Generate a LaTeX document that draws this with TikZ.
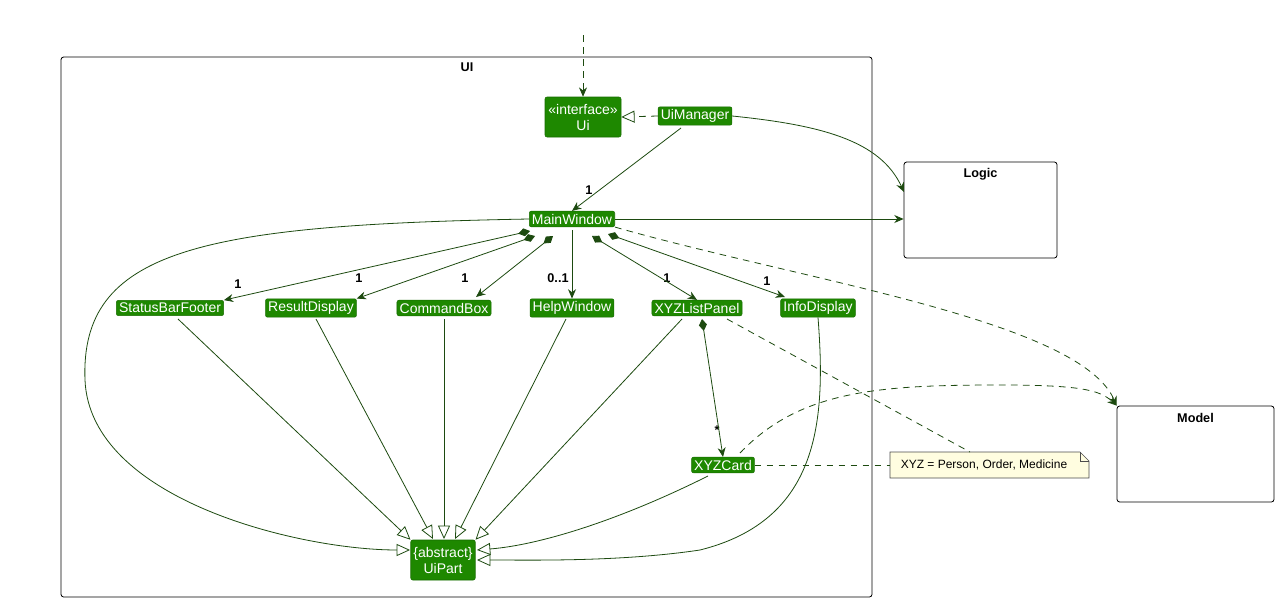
\documentclass[tikz,border=0pt]{standalone}
\usepackage{fontspec}
\setmainfont{Liberation Sans}
\usetikzlibrary{arrows.meta}
\definecolor{cls}{HTML}{1E8800}
\definecolor{ln}{HTML}{1D4A10}
\begin{document}
\begin{tikzpicture}[x=0.75pt,y=-0.75pt,
  cls/.style={fill=cls,draw=cls!80!black,rounded corners=1.5pt,text=white,font=\fontsize{10.5}{12}\selectfont,inner sep=2pt,align=center},
  pkg/.style={draw=black,fill=white,rounded corners=2pt,line width=0.6pt},
  edge/.style={draw=ln,line width=0.6pt},
  assoc/.style={edge,-{Stealth[length=7pt,width=6pt]}},
  gen/.style={edge,-{Triangle[open,length=10pt,width=9pt,fill=white]}},
  comp/.style={edge,{Diamond[length=9pt,width=6pt]}-{Stealth[length=7pt,width=6pt]}},
  dep/.style={edge,dashed,dash pattern=on 5pt off 4pt},
  lab/.style={font=\bfseries\fontsize{9.5}{10}\selectfont,text=black,inner sep=1pt}]
\useasboundingbox (0,0) rectangle (1279,603);
% frames
\draw[pkg] (61,57) rectangle (872,597);
\node[font=\bfseries\fontsize{9.5}{10}\selectfont] at (467,67) {UI};
\node[pkg,minimum width=153*0.75pt,minimum height=96*0.75pt] (logic) at (980.5,210) {};
\node[font=\bfseries\fontsize{9.5}{10}\selectfont] at (980.5,174) {Logic};
\node[pkg,minimum width=157*0.75pt,minimum height=96*0.75pt] (model) at (1195.5,454) {};
\node[font=\bfseries\fontsize{9.5}{10}\selectfont] at (1195.5,418) {Model};
% classes
\node[cls,minimum width=76*0.75pt,minimum height=40*0.75pt] (ui) at (583,117) {«interface»\\Ui};
\node[cls] (uim) at (695,116) {UiManager};
\node[cls] (mw) at (572,219) {MainWindow};
\node[cls] (sbf) at (170,308) {StatusBarFooter};
\node[cls] (rd) at (311,308) {ResultDisplay};
\node[cls] (cb) at (444,308) {CommandBox};
\node[cls] (hw) at (572,308) {HelpWindow};
\node[cls] (lp) at (697,308) {XYZListPanel};
\node[cls] (id) at (818,308) {InfoDisplay};
\node[cls] (card) at (723,465) {XYZCard};
\node[cls,minimum height=40*0.75pt] (up) at (443,560) {\{abstract\}\\UiPart};
% note
\draw[draw=black!70,fill=yellow!12,line width=0.5pt] (890,452) -- (1080,452) -- (1089,461) -- (1089,478) -- (890,478) -- cycle;
\draw[draw=black!70,line width=0.5pt] (1080,452) -- (1080,461) -- (1089,461);
\node[font=\fontsize{9}{10}\selectfont,inner sep=0pt] (note) at (984,465) {XYZ = Person, Order, Medicine};
\coordinate (noteT) at (970,452);
\coordinate (noteL) at (890,465);
\coordinate (top) at (583,35);
% labels
\node[lab] at (589,190) {1};
\node[lab] at (238,284) {1};
\node[lab] at (359,278) {1};
\node[lab] at (465,278) {1};
\node[lab] at (558,278) {0..1};
\node[lab] at (667,278) {1};
\node[lab] at (767,281) {1};
\node[lab] at (717,430) {*};
% edges
\draw[dep,-{Stealth[length=7pt,width=6pt]}] (top) -- (ui.north);
\draw[dep,-{Triangle[open,length=10pt,width=9pt,fill=white]}] (uim.west) -- (ui.east);
\draw[assoc] (681,128) -- (mw.north);
\draw[assoc] (uim.east) .. controls (820,125) and (880,140) .. (904,192);
\draw[assoc] (mw.east) -- (logic.west |- mw.east);
\draw[dep,-{Stealth[length=7pt,width=6pt]}] (mw.south east) .. controls (800,280) and (1080,320) .. (model.north west);
\draw[dep,-{Stealth[length=7pt,width=6pt]}] (740,453) .. controls (800,390) and (880,385) .. (1000,385) .. controls (1080,385) and (1100,390) .. (model.north west);
\draw[comp] (530,231) -- (sbf.north east);
\draw[comp] (535,236) -- (rd.north east);
\draw[comp] (553,236) -- (476,297);
\draw[assoc] (572,230) -- (hw.north);
\draw[comp] (592,236) -- (lp.north);
\draw[comp] (608,234) -- (785,297);
\draw[edge,{Diamond[length=9pt,width=6pt]}-{Stealth[length=7pt,width=6pt]}] (702,319) -- (card.north);
\draw[dep] (727,319) -- (noteT);
\draw[dep] (card.east) -- (noteL);
% generalizations
\draw[gen] (178,319) -- (up.north west);
\draw[gen] (316,319) -- (433,539);
\draw[gen] (444,319) -- (444,539);
\draw[gen] (566,319) -- (455,539);
\draw[gen] (682,319) -- (up.north east);
\draw[gen] (mw.west) .. controls (200,225) and (80,250) .. (85,380) .. controls (90,500) and (300,550) .. (410,550);
\draw[gen] (708,476) .. controls (620,520) and (540,545) .. (477,550);
\draw[gen] (id.south) .. controls (826,420) and (820,520) .. (700,550) .. controls (620,562) and (530,560) .. (477,560);
\end{tikzpicture}
\end{document}
